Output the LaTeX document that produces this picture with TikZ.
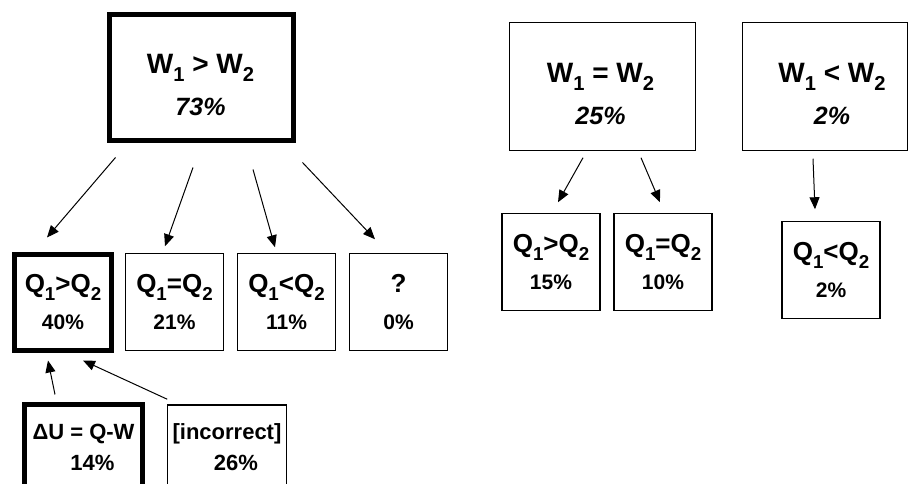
\documentclass[tikz,border=0pt]{standalone}
\usepackage{fontspec}
\usepackage{graphicx}
\setmainfont{Liberation Sans}
\usetikzlibrary{arrows.meta}

\newcommand{\wfont}{\fontsize{28}{42}\selectfont\bfseries}
\newcommand{\wpct}{\fontsize{25}{42}\selectfont\bfseries\itshape}
\newcommand{\qfont}{\fontsize{26}{37}\selectfont\bfseries}
\newcommand{\qpct}{\fontsize{21}{37}\selectfont\bfseries}
\newcommand{\dfont}{\fontsize{22}{31}\selectfont\bfseries}
\newcommand{\lo}[1]{\raisebox{-.3em}{\scalebox{.72}{#1}}}

\tikzset{
  box/.style={draw, line width=1.5pt, minimum width=98pt, minimum height=97pt,
    inner sep=0pt, align=center, font=\qfont},
  thickbox/.style={box, line width=5pt},
  wbox/.style={box, minimum height=128pt},
  wtext/.style={align=center, inner sep=0pt, font=\wfont},
  arr/.style={-{Triangle[length=12pt,width=10pt]}, line width=1pt},
}

\begin{document}
\begin{tikzpicture}[x=1pt, y=1pt]
  \useasboundingbox (0,0) rectangle (914,484);

  % 第一层: W 的比较
  \node[wbox, line width=5pt, minimum width=184pt, minimum height=126pt] (wgt) at (201.5,406) {};
  \node[wbox, minimum width=186pt] (weq) at (602.5,397.5) {};
  \node[wbox, minimum width=165pt] (wlt) at (825,397.5) {};
  \node[wtext] (wgt-t) at ([shift={(-1,-7)}]wgt.center)
    {W\lo{1} > W\lo{2}\\{\wpct 73\%}};
  \node[wtext] (weq-t) at ([shift={(-2,-7.5)}]weq.center)
    {W\lo{1} = W\lo{2}\\{\wpct 25\%}};
  \node[wtext] (wlt-t) at ([shift={(7,-7.5)}]wlt.center)
    {W\lo{1} < W\lo{2}\\{\wpct 2\%}};

  % 第二层: Q 的比较 (左边)
  \node[thickbox, minimum width=97pt, minimum height=96pt] (agt) at (63,181.5)
    {Q\lo{1}>Q\lo{2}\\{\qpct 40\%}};
  \node[box] (aeq) at (174.5,182) {Q\lo{1}=Q\lo{2}\\{\qpct 21\%}};
  \node[box] (alt) at (286.5,182) {Q\lo{1}<Q\lo{2}\\{\qpct 11\%}};
  \node[box] (aqm) at (398.5,182) {?\\{\qpct 0\%}};

  % 第二层 (右边)
  \node[box] (bgt) at (551,222) {Q\lo{1}>Q\lo{2}\\{\qpct 15\%}};
  \node[box] (beq) at (663,222) {Q\lo{1}=Q\lo{2}\\{\qpct 10\%}};
  \node[box] (clt) at (831,214) {Q\lo{1}<Q\lo{2}\\{\qpct 2\%}};

  % 第三层: 原因 (框的下边在图外)
  \node[thickbox, minimum width=118pt, minimum height=84pt, font=\dfont] (du) at (83.5,37)
    {ΔU = Q-W\\\hspace*{18pt}14\%};
  \node[box, minimum width=119pt, minimum height=84pt, font=\dfont] (inc) at (227,37)
    {[incorrect]\\\hspace*{18pt}26\%};

  % 箭头
  \draw[arr] ([shift={(8.5,-14)}]wgt.south west) -- ([shift={(-16,14.5)}]agt.north);
  \draw[arr] ([shift={(-8.5,-24)}]wgt.south) -- ([shift={(-9.5,6.5)}]aeq.north);
  \draw[arr] ([shift={(51.5,-26)}]wgt.south) -- ([shift={(-11.5,5.5)}]alt.north);
  \draw[arr] ([shift={(6.5,-19)}]wgt.south east) -- ([shift={(-23.5,13.5)}]aqm.north);
  \draw[arr] ([shift={(-19.5,-6.5)}]weq.south) -- ([shift={(7,10.5)}]bgt.north);
  \draw[arr] ([shift={(38.5,-6.5)}]weq.south) -- ([shift={(-3,10.5)}]beq.north);
  \draw[arr] ([shift={(-12,-7.5)}]wlt.south) -- ([shift={(-16,11.5)}]clt.north);
  \draw[arr] ([shift={(-28.5,8)}]du.north) -- ([shift={(-15,-7.5)}]agt.south);
  \draw[arr] ([shift={(0.5,5)}]inc.north west) -- ([shift={(20,-7.5)}]agt.south);

\end{tikzpicture}
\end{document}
